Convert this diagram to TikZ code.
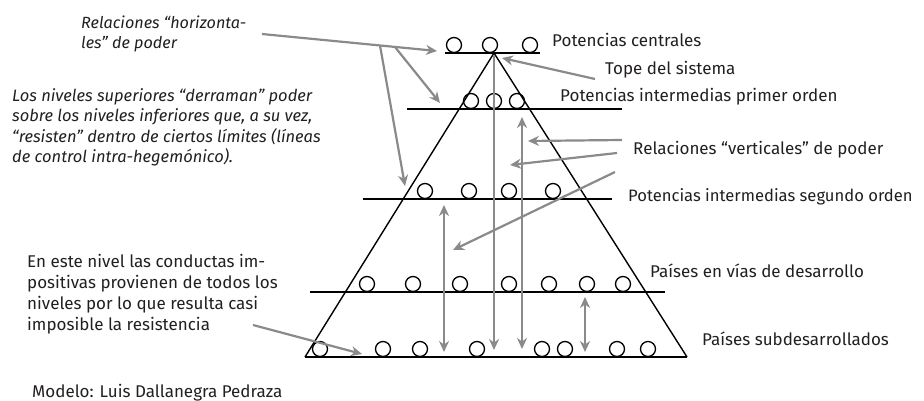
\documentclass[tikz,border=0pt]{standalone}
\usepackage{fontspec}
\setmainfont{Fira Sans}
\usetikzlibrary{arrows.meta}
\definecolor{arrowgray}{RGB}{138,138,138}
\definecolor{txt}{RGB}{35,31,32}
\begin{document}
\begin{tikzpicture}[x=1pt,y=-1pt,
  lvl/.style={line width=1.8pt,black},
  edgeline/.style={line width=1.4pt,black,line join=miter},
  ball/.style={circle,draw,line width=1.3pt,minimum size=15pt,inner sep=0pt},
  garrow/.style={arrowgray,line width=2.2pt,-{Stealth[length=11pt,width=10pt]}},
  gdarrow/.style={arrowgray,line width=2.2pt,{Stealth[length=11pt,width=10pt]}-{Stealth[length=11pt,width=10pt]}},
  lbl/.style={font=\fontsize{17}{20}\selectfont,text=txt,inner sep=0pt,anchor=base west},
  para/.style={font=\fontsize{17}{21}\selectfont,text=txt,inner sep=0pt,anchor=north west,align=left},
]
\useasboundingbox (0,0) rectangle (924,401);

% pyramid
\coordinate (apex) at (494,53);
\coordinate (bl) at (305,357);
\coordinate (br) at (687,357);
\draw[edgeline] (bl) -- (apex) -- (br);

% level lines
\draw[lvl] (445,53) -- (540,53);
\draw[lvl] (407,109) -- (622,109);
\draw[lvl] (363,199) -- (612,199);
\draw[lvl] (310,292) -- (665,292);
\draw[lvl] (bl) -- (br);

% circles
\foreach \x [count=\i] in {454,490,530} \node[ball] (c1\i) at (\x,45) {};
\foreach \x [count=\i] in {471,494,517} \node[ball] (c2\i) at (\x,101) {};
\foreach \x [count=\i] in {425,469,509,553} \node[ball] (c3\i) at (\x,191) {};
\foreach \x [count=\i] in {367,413,460,509,549,587,623} \node[ball] (c4\i) at (\x,284) {};
\foreach \x [count=\i] in {320,383,420,477,542,565,617,648} \node[ball] (c5\i) at (\x,349) {};

% texts
\node[para,font=\fontsize{16.2}{20}\selectfont\itshape] (horiz) at (81,15.3) {Relaciones “horizonta-\\les” de poder};
\node[para,font=\fontsize{16.5}{20.5}\selectfont\itshape] (derr) at (12,88) {Los niveles superiores “derraman” poder\\sobre los niveles inferiores que, a su vez,\\“resisten” dentro de ciertos límites (líneas\\de control intra-hegemónico).};
\node[para] (nivel) at (27,254.3) {En este nivel las conductas im-\\positivas provienen de todos los\\niveles por lo que resulta casi\\imposible la resistencia};
\node[lbl] (modelo) at (32,397) {Modelo: Luis Dallanegra Pedraza};

\node[lbl] (pc) at (552,47) {Potencias centrales};
\node[lbl] (tope) at (605,75) {Tope del sistema};
\node[lbl] (pi1) at (560,102) {Potencias intermedias primer orden};
\node[lbl] (vert) at (633,155) {Relaciones “verticales” de poder};
\node[lbl,font=\fontsize{16.6}{20}\selectfont] (pi2) at (628,201) {Potencias intermedias segundo orden};
\node[lbl] (ved) at (650,277) {Países en vías de desarrollo};
\node[lbl] (sub) at (702,345) {Países subdesarrollados};

% arrow coordinates
\coordinate (h0) at (262,34);
\coordinate (h1) at (437,51);
\coordinate (hb1) at (380,45.5);
\coordinate (hb1e) at (405,186);
\coordinate (hb2) at (395,47);
\coordinate (hb2e) at (440,103);
\coordinate (t0) at (595,79);
\coordinate (t1) at (502,58);
\coordinate (va0) at (494,55);
\coordinate (va1) at (494,350);
\coordinate (vb0) at (522,117);
\coordinate (vb1) at (522,349);
\coordinate (vc0) at (444,205);
\coordinate (vc1) at (444,352);
\coordinate (vd0) at (585,297);
\coordinate (vd1) at (585,352);
\coordinate (r10) at (622,140);
\coordinate (r11) at (528,141);
\coordinate (r20) at (617,153);
\coordinate (r21) at (510,165);
\coordinate (r30) at (615,172);
\coordinate (r31) at (453,250);
\coordinate (n0) at (253,325);
\coordinate (n1) at (362,354);

% gray arrows
\draw[garrow] (h0) -- (h1);
\draw[garrow] (hb1) -- (hb1e);
\draw[garrow] (hb2) -- (hb2e);
\draw[garrow] (t0) -- (t1);
\draw[garrow] (va0) -- (va1);
\draw[gdarrow] (vb0) -- (vb1);
\draw[gdarrow] (vc0) -- (vc1);
\draw[gdarrow] (vd0) -- (vd1);
\draw[garrow] (r10) -- (r11);
\draw[garrow] (r20) -- (r21);
\draw[garrow] (r30) -- (r31);
\draw[garrow] (n0) -- (n1);
\end{tikzpicture}
\end{document}
